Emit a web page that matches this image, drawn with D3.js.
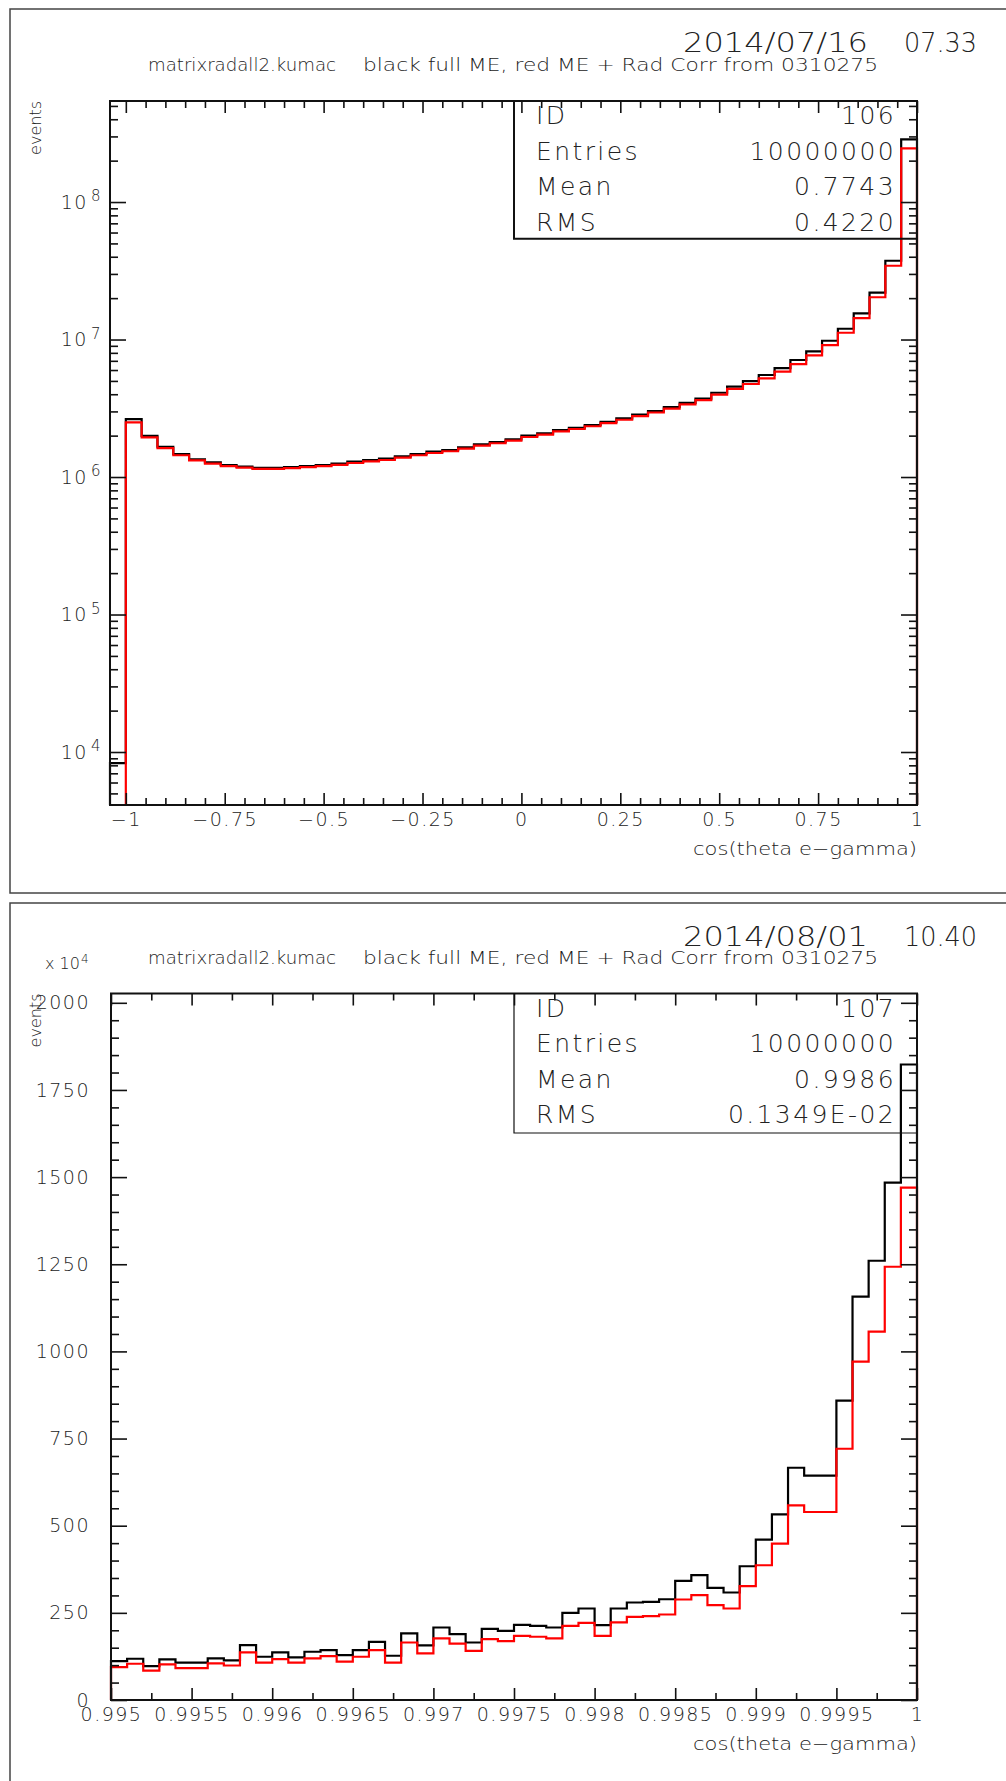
<!DOCTYPE html>
<html>
<head>
<meta charset="utf-8">
<script src="https://cdn.jsdelivr.net/npm/d3@7"></script>
<style>
  body { margin: 0; background: #fff; }
  svg { display: block; }
  text { font-family: "DejaVu Sans", sans-serif; font-weight: 200; fill: #222; }
</style>
</head>
<body>
<div id="chart"></div>
<script>
// ---- upper histogram (id 106): 51 bins of 0.04 starting at -1.04 ----
const topBinStart = -1.04;
const topBinWidth = 0.04;
const topXDomain = [-1.04, 1];
const topYDomain = [4117, 5.43e8];
const topBlack = [8300, 2.64e6, 1.99e6, 1.66e6, 1.47e6, 1.345e6, 1.279e6, 1.223e6, 1.189e6, 1.168e6,
  1.168e6, 1.182e6, 1.202e6, 1.223e6, 1.25e6, 1.292e6, 1.329e6, 1.359e6, 1.414e6, 1.47e6,
  1.528e6, 1.572e6, 1.644e6, 1.729e6, 1.797e6, 1.88e6, 1.997e6, 2.079e6, 2.197e6, 2.283e6,
  2.39e6, 2.52e6, 2.67e6, 2.84e6, 3.02e6, 3.23e6, 3.46e6, 3.72e6, 4.10e6, 4.54e6,
  4.99e6, 5.52e6, 6.2e6, 7.1e6, 8.2e6, 9.8e6, 1.198e7, 1.55e7, 2.19e7, 3.74e7, 2.86e8];
const topRed = [0, 2.50e6, 1.94e6, 1.62e6, 1.44e6, 1.32e6, 1.25e6, 1.20e6, 1.17e6, 1.145e6,
  1.145e6, 1.16e6, 1.18e6, 1.20e6, 1.225e6, 1.265e6, 1.30e6, 1.33e6, 1.385e6, 1.44e6,
  1.495e6, 1.54e6, 1.61e6, 1.69e6, 1.76e6, 1.84e6, 1.955e6, 2.035e6, 2.15e6, 2.235e6,
  2.34e6, 2.465e6, 2.61e6, 2.77e6, 2.945e6, 3.145e6, 3.37e6, 3.62e6, 3.97e6, 4.37e6,
  4.75e6, 5.22e6, 5.84e6, 6.63e6, 7.67e6, 9.12e6, 1.12e7, 1.43e7, 2.03e7, 3.44e7, 2.46e8];
const topXTicks = [-1, -0.75, -0.5, -0.25, 0, 0.25, 0.5, 0.75, 1];
const topXLabels = ["\u22121", "\u22120.75", "\u22120.5", "\u22120.25", "0", "0.25", "0.5", "0.75", "1"];
const topYDecades = [1e4, 1e5, 1e6, 1e7, 1e8];
const topStats = [["ID", "106"], ["Entries", "10000000"], ["Mean", "0.7743"], ["RMS", "0.4220"]];

// ---- lower histogram (id 107): 50 bins of 0.0001 from 0.995, in units of 10^4 ----
const botBinStart = 0.995;
const botBinWidth = 0.0001;
const botXDomain = [0.995, 1];
const botYDomain = [0, 2026.7];
const botBlack = [111.7, 118.4, 97.4, 116.5, 107, 107, 119.3, 113.6, 157.5, 124,
  136.5, 122.2, 138.4, 143, 128.9, 143, 167, 127, 191, 156.5,
  208, 189, 165, 204, 198.5, 215.7, 212.8, 208, 250, 262.5,
  214.8, 262.5, 279.7, 281.6, 289, 341.7, 358, 321.6, 308.4, 383.7,
  460, 532.6, 666.3, 643.4, 643.4, 859, 1157, 1260, 1484, 1823];
const botRed = [94.5, 104, 84, 102, 91.6, 91.6, 105, 99, 136.5, 107,
  117.4, 107, 119.3, 126, 109.8, 124, 143, 107, 165, 133.6,
  176.6, 162, 141, 174.7, 169, 184, 181.4, 176.6, 212.8, 221.5,
  184, 222.4, 238.7, 240.5, 245.3, 288.3, 300.7, 272, 262.5, 326.5,
  386.6, 448.7, 558.4, 539.3, 539.3, 720.7, 970.8, 1056.7, 1242.8, 1470];
const botXTicks = [0.995, 0.9955, 0.996, 0.9965, 0.997, 0.9975, 0.998, 0.9985, 0.999, 0.9995, 1];
const botXLabels = ["0.995", "0.9955", "0.996", "0.9965", "0.997", "0.9975", "0.998", "0.9985", "0.999", "0.9995", "1"];
const botYTicks = [0, 250, 500, 750, 1000, 1250, 1500, 1750, 2000];
const botStats = [["ID", "107"], ["Entries", "10000000"], ["Mean", "0.9986"], ["RMS", "0.1349E-02"]];

const subtitleA = "matrixradall2.kumac";
const subtitleB = "black full ME, red ME + Rad Corr from 0310275";
const xTitle = "cos(theta e\u2212gamma)";

const svg = d3.select("#chart").append("svg")
    .attr("width", 1006)
    .attr("height", 1781);

// step outline of a histogram, starting and ending on the baseline
const stepPoints = (start, width, values) => {
    let pts = [{ x: start, v: null }];
    values.forEach((v, i) => {
        pts.push({ x: start + i * width, v: v });
        pts.push({ x: start + (i + 1) * width, v: v });
    });
    pts.push({ x: start + values.length * width, v: null });
    return pts;
};

const styleAxis = (g, size) => {
    g.select(".domain").remove();
    g.selectAll(".tick line").attr("stroke", "#111").attr("stroke-width", 1.6);
    g.selectAll(".tick text")
        .attr("font-family", "DejaVu Sans")
        .attr("font-weight", 200)
        .attr("font-size", size)
        .attr("fill", "#222")
        .style("letter-spacing", "1.5px");
};

const fitText = (x, y, str, size, len, anchor) => {
    return svg.append("text")
        .attr("x", x).attr("y", y)
        .attr("font-size", size)
        .attr("text-anchor", anchor || "start")
        .attr("textLength", len)
        .attr("lengthAdjust", "spacingAndGlyphs")
        .text(str);
};

const drawPanel = cfg => {
    const p = cfg.plot;

    // outer page frame
    svg.append("rect")
        .attr("x", 10).attr("y", cfg.frameY)
        .attr("width", 1100).attr("height", cfg.frameH)
        .attr("fill", "none").attr("stroke", "#444").attr("stroke-width", 1.5);

    // date / title lines
    fitText(683, cfg.frameY + 43, cfg.date, 27, 185);
    fitText(977, cfg.frameY + 43, cfg.time, 27, 73, "end");
    fitText(148, p.y0 - 30, subtitleA, 17, 188);
    fitText(363, p.y0 - 30, subtitleB, 17, 515);

    // y title
    svg.append("text")
        .attr("transform", "translate(" + 41 + "," + p.y0 + ") rotate(-90)")
        .attr("text-anchor", "end")
        .attr("font-size", 16)
        .text("events");

    // x title
    fitText(p.x1, p.y1 + 50, xTitle, 18, 224, "end");

    // histograms
    const line = d3.line()
        .x(d => cfg.x(d.x))
        .y(d => d.v === null ? p.y1 : cfg.y(Math.max(d.v, cfg.y.domain()[0])));
    svg.append("path")
        .attr("d", line(stepPoints(cfg.binStart, cfg.binWidth, cfg.black)))
        .attr("fill", "none").attr("stroke", "#000").attr("stroke-width", 2.2);
    svg.append("path")
        .attr("d", line(stepPoints(cfg.binStart, cfg.binWidth, cfg.red)))
        .attr("fill", "none").attr("stroke", "#ff0000").attr("stroke-width", 2.2);

    // x axes (bottom with labels, top mirrored)
    let gx = svg.append("g").attr("transform", "translate(0," + p.y1 + ")")
        .call(d3.axisBottom(cfg.x).tickValues(cfg.xTicks).tickSize(-12).tickSizeOuter(0)
            .tickPadding(8).tickFormat((d, i) => cfg.xLabels[i]));
    styleAxis(gx, 19);
    styleAxis(svg.append("g").attr("transform", "translate(0," + p.y1 + ")")
        .call(d3.axisBottom(cfg.x).tickValues(cfg.xMinor).tickSize(-7).tickSizeOuter(0).tickFormat("")), 19);
    styleAxis(svg.append("g").attr("transform", "translate(0," + p.y0 + ")")
        .call(d3.axisTop(cfg.x).tickValues(cfg.xTicks).tickSize(-12).tickSizeOuter(0).tickFormat("")), 19);
    styleAxis(svg.append("g").attr("transform", "translate(0," + p.y0 + ")")
        .call(d3.axisTop(cfg.x).tickValues(cfg.xMinor).tickSize(-7).tickSizeOuter(0).tickFormat("")), 19);

    // y axes (left with labels, right mirrored)
    let gy = svg.append("g").attr("transform", "translate(" + p.x0 + ",0)")
        .call(d3.axisLeft(cfg.y).tickValues(cfg.yTicks).tickSize(-16).tickSizeOuter(0)
            .tickPadding(cfg.yPad).tickFormat(cfg.yFormat));
    styleAxis(gy, 19);
    styleAxis(svg.append("g").attr("transform", "translate(" + p.x0 + ",0)")
        .call(d3.axisLeft(cfg.y).tickValues(cfg.yMinor).tickSize(-8).tickSizeOuter(0).tickFormat("")), 19);
    styleAxis(svg.append("g").attr("transform", "translate(" + p.x1 + ",0)")
        .call(d3.axisRight(cfg.y).tickValues(cfg.yTicks).tickSize(-16).tickSizeOuter(0).tickFormat("")), 19);
    styleAxis(svg.append("g").attr("transform", "translate(" + p.x1 + ",0)")
        .call(d3.axisRight(cfg.y).tickValues(cfg.yMinor).tickSize(-8).tickSizeOuter(0).tickFormat("")), 19);
    if (cfg.afterY) cfg.afterY(gy);

    // plot frame
    svg.append("rect")
        .attr("x", p.x0).attr("y", p.y0)
        .attr("width", p.x1 - p.x0).attr("height", p.y1 - p.y0)
        .attr("fill", "none").attr("stroke", "#111").attr("stroke-width", 2);

    // statistics box
    svg.append("path")
        .attr("d", "M" + p.x1 + "," + cfg.boxY1 + "H514V" + p.y0)
        .attr("fill", "none").attr("stroke", "#111").attr("stroke-width", cfg.boxStroke);
    cfg.stats.forEach((row, i) => {
        const yy = p.y0 + 23 + i * 35.5;
        svg.append("text").attr("x", 536).attr("y", yy).attr("font-size", 25)
            .style("letter-spacing", "2.4px").text(row[0]);
        svg.append("text").attr("x", 896).attr("y", yy).attr("font-size", 25)
            .attr("text-anchor", "end").style("letter-spacing", "2.4px").text(row[1]);
    });
};

// ---- upper panel ----
const topX = d3.scaleLinear().domain(topXDomain).range([110, 917]);
const topY = d3.scaleLog().domain(topYDomain).range([805, 101]).clamp(true);
let topYMinor = [];
[3, 4, 5, 6, 7, 8].forEach(k => d3.range(2, 10).forEach(m => {
    const v = m * Math.pow(10, k);
    if (v > topYDomain[0] && v < topYDomain[1]) topYMinor.push(v);
}));

drawPanel({
    frameY: 9, frameH: 884,
    plot: { x0: 110, x1: 917, y0: 101, y1: 805 },
    date: "2014/07/16", time: "07.33",
    x: topX, y: topY,
    binStart: topBinStart, binWidth: topBinWidth,
    black: topBlack, red: topRed,
    xTicks: topXTicks, xLabels: topXLabels,
    xMinor: d3.range(-1, 1.001, 0.05).filter(v => Math.abs(Math.round(v * 4) - v * 4) > 1e-6),
    yTicks: topYDecades, yMinor: topYMinor, yPad: 8,
    yFormat: d => "10",
    afterY: g => {
        g.selectAll(".tick text").each(function (d) {
            const t = d3.select(this);
            t.text(null);
            t.append("tspan").text("10");
            t.append("tspan").attr("dx", 3).attr("dy", "-0.5em").attr("font-size", 15).text(Math.round(Math.log10(d)));
        });
    },
    stats: topStats, boxY1: 238.7, boxStroke: 2
});

// ---- lower panel ----
const botX = d3.scaleLinear().domain(botXDomain).range([111, 917]);
const botY = d3.scaleLinear().domain(botYDomain).range([1700, 993.5]);

drawPanel({
    frameY: 903, frameH: 1000,
    plot: { x0: 111, x1: 917, y0: 993.5, y1: 1700 },
    date: "2014/08/01", time: "10.40",
    x: botX, y: botY,
    binStart: botBinStart, binWidth: botBinWidth,
    black: botBlack, red: botRed,
    xTicks: botXTicks, xLabels: botXLabels,
    xMinor: d3.range(0, 10).map(i => 0.99525 + i * 0.0005),
    yTicks: botYTicks, yMinor: d3.range(50, 2026, 50).filter(v => v % 250 !== 0), yPad: 21,
    yFormat: d => String(d),
    stats: botStats, boxY1: 1133, boxStroke: 1.2
});

// exponent note for the lower y axis
let expo = svg.append("text").attr("x", 45).attr("y", 969).attr("font-size", 16);
expo.append("tspan").text("x 10");
expo.append("tspan").attr("dx", 1).attr("dy", "-0.5em").attr("font-size", 12).text("4");
</script>
</body>
</html>
